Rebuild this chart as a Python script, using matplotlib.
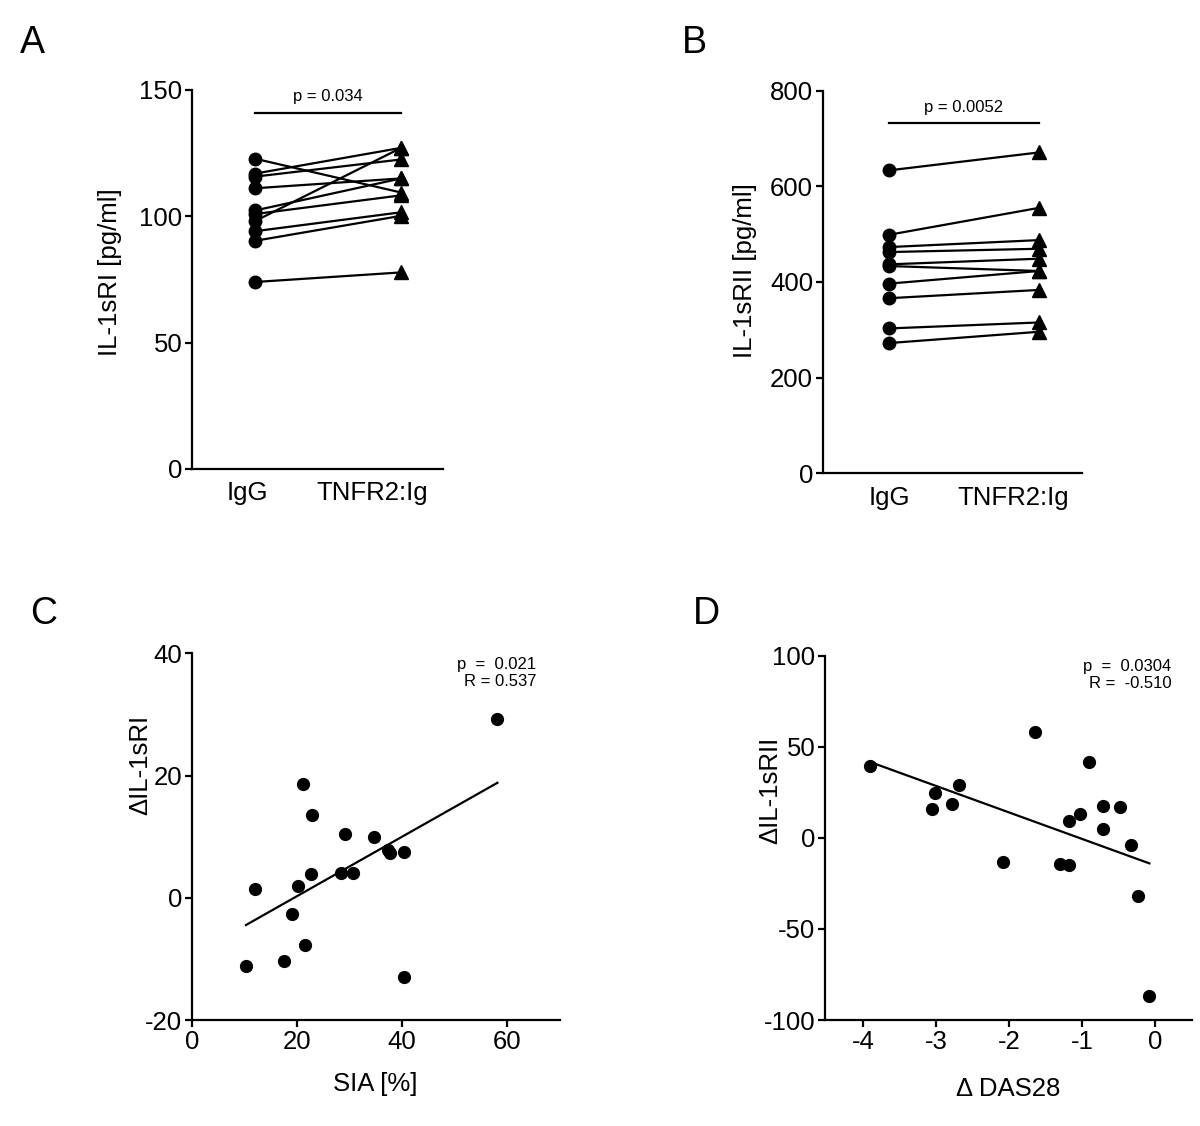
import numpy as np
import matplotlib
matplotlib.use("Agg")
from matplotlib import pyplot as plt

plt.rcParams['font.family'] = ['Liberation Sans', 'DejaVu Sans']
plt.rcParams['axes.unicode_minus'] = False

# Panel A: IL-1sRI paired values (IgG -> TNFR2:Ig)
igg_a = [122.8, 116.9, 115.7, 111.1, 102.3, 100.9, 98.1, 94.1, 90.3, 74.0]
tnfr_a = [109.4, 127.1, 122.5, 115.0, 115.0, 108.3, 127.1, 101.6, 100.2, 77.8]

# Panel B: IL-1sRII paired values
igg_b = [633.3, 498.6, 472.9, 462.5, 436.8, 433.3, 396.5, 366.0, 302.8, 272.2]
tnfr_b = [670.8, 554.9, 487.5, 469.4, 448.6, 422.9, 422.9, 383.3, 315.3, 295.8]

groups = ['IgG', 'TNFR2:Ig']

# Panel C: SIA [%] vs delta IL-1sRI
sia = [58.1, 21.1, 22.9, 29.1, 34.7, 37.3, 37.6, 40.4, 28.4, 30.6,
       22.7, 12.1, 20.1, 19.0, 21.6, 17.6, 10.3, 40.4]
d_sri = [29.3, 18.6, 13.6, 10.4, 9.9, 7.9, 7.3, 7.5, 4.1, 4.1,
         3.9, 1.4, 1.9, -2.7, -7.8, -10.3, -11.2, -13.0]

# Panel D: delta DAS28 vs delta IL-1sRII
d_das = [-3.91, -1.64, -0.91, -2.68, -3.01, -2.78, -3.06, -0.72, -0.48,
         -1.03, -1.18, -0.71, -0.33, -2.09, -1.30, -1.18, -0.23, -0.08]
d_srii = [39.5, 58.2, 41.5, 28.9, 24.7, 18.8, 15.7, 17.7, 16.8,
          13.0, 9.5, 5.1, -3.7, -13.0, -14.1, -14.7, -31.7, -86.9]

fig = plt.figure(figsize=(12, 11.26), dpi=100)

axA = fig.add_axes([0.160, 0.5835, 0.2092, 0.3366])
axB = fig.add_axes([0.6858, 0.5797, 0.2156, 0.3398])
axC = fig.add_axes([0.1598, 0.0941, 0.3069, 0.3257])
axD = fig.add_axes([0.6875, 0.0941, 0.3056, 0.3235])

TICK = 18.5
SMALL = 12

def style(ax):
    for s in ['top', 'right']:
        ax.spines[s].set_visible(False)
    for s in ['left', 'bottom']:
        ax.spines[s].set_linewidth(1.6)
    ax.tick_params(axis='both', direction='out', length=5, width=1.6,
                   labelsize=TICK, pad=2)

# paired plots
for ax, left, right in [(axA, igg_a, tnfr_a), (axB, igg_b, tnfr_b)]:
    for l, r in zip(left, right):
        ax.plot([1, 2], [l, r], color='black', lw=1.6, zorder=2)
    ax.plot([1] * len(left), left, 'o', color='black', ms=9, zorder=3)
    ax.plot([2] * len(right), right, '^', color='black', ms=9.5, zorder=3)
    style(ax)
    ax.tick_params(axis='x', length=0, pad=9)

axA.set_xlim(0.569, 2.286)
axA.set_ylim(0, 150)
axA.set_yticks([0, 50, 100, 150])
axA.set_xticks([0.945, 1.80])
axA.set_xticklabels(groups)
axA.set_ylabel('IL-1sRI [pg/ml]', fontsize=TICK)
axA.yaxis.set_label_coords(-0.279, 0.52)
axA.plot([1, 2], [141, 141], color='black', lw=1.6, clip_on=False)
axA.text(1.5, 144.5, 'p = 0.034', ha='center', va='bottom', fontsize=SMALL)

axB.set_xlim(0.56, 2.285)
axB.set_ylim(0, 800)
axB.set_yticks([0, 200, 400, 600, 800])
axB.set_xticks([1.0, 1.83])
axB.set_xticklabels(groups)
axB.set_ylabel('IL-1sRII [pg/ml]', fontsize=TICK)
axB.yaxis.set_label_coords(-0.255, 0.53)
axB.plot([1, 2], [732, 732], color='black', lw=1.6, clip_on=False)
axB.text(1.5, 750, 'p = 0.0052', ha='center', va='bottom', fontsize=SMALL)

# correlation plots
for ax, xs, ys in [(axC, sia, d_sri), (axD, d_das, d_srii)]:
    xs = np.array(xs)
    ys = np.array(ys)
    k, b = np.polyfit(xs, ys, 1)
    xl = np.array([xs.min(), xs.max()])
    ax.plot(xl, k * xl + b, color='black', lw=1.6, zorder=2)
    ax.plot(xs, ys, 'o', color='black', ms=8.5, zorder=3)
    style(ax)

axC.set_xlim(0, 70)
axC.set_ylim(-20, 40)
axC.set_xticks([0, 20, 40, 60])
axC.set_yticks([-20, 0, 20, 40])
axC.set_xlabel('SIA [%]', fontsize=TICK)
axC.xaxis.set_label_coords(0.498, -0.142)
axC.set_ylabel('ΔIL-1sRI', fontsize=TICK)
axC.yaxis.set_label_coords(-0.108, 0.695)
axC.text(0.935, 0.99, 'p  =  0.021\nR = 0.537', transform=axC.transAxes,
         ha='right', va='top', fontsize=SMALL, linespacing=1.15)

axD.set_xlim(-4.52, 0.5)
axD.set_ylim(-100, 100)
axD.set_xticks([-4, -3, -2, -1, 0])
axD.set_yticks([-100, -50, 0, 50, 100])
axD.set_xlabel('Δ DAS28', fontsize=TICK)
axD.xaxis.set_label_coords(0.50, -0.156)
axD.set_ylabel('ΔIL-1sRII', fontsize=TICK)
axD.yaxis.set_label_coords(-0.117, 0.63)
axD.text(0.945, 0.99, 'p  =  0.0304\nR =  -0.510', transform=axD.transAxes,
         ha='right', va='top', fontsize=SMALL, linespacing=1.15)

# panel letters
for letter, x, y in [('A', 0.017, 0.962), ('B', 0.568, 0.962),
                     ('C', 0.025, 0.455), ('D', 0.577, 0.455)]:
    fig.text(x, y, letter, fontsize=27, ha='left', va='center')

fig.savefig('out.png', dpi=100)
